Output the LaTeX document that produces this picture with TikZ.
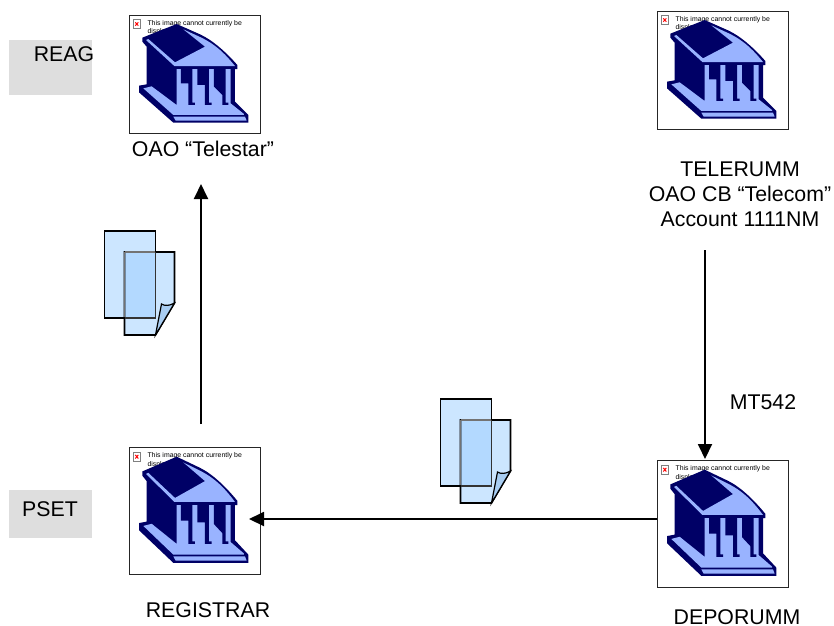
\documentclass[tikz,border=0pt]{standalone}
\usepackage{fontspec}
\setmainfont{Liberation Sans}
\usetikzlibrary{arrows.meta}
\definecolor{navy1}{HTML}{000066}
\definecolor{lightb}{HTML}{99B3FF}
\definecolor{docb}{HTML}{CCE6FF}
\definecolor{docd}{HTML}{B3D9FF}
\definecolor{fold}{HTML}{A8CDF2}
\tikzset{
  x=1pt,y=-1pt,
  lab/.style={font=\fontsize{21.3}{25}\selectfont,align=center,inner sep=0pt,text=black},
  framebox/.style={draw=black!85,line width=0.9pt,fill=white,minimum width=131pt,inner sep=0pt,anchor=north west},
  greybox/.style={fill=black!13,draw=none,inner sep=0pt,anchor=north west,minimum width=83pt},
  flow/.style={line width=1.9pt,-{Triangle[length=15pt,width=14pt]}},
  docline/.style={draw=black,line width=1.6pt,line join=miter},
  msg/.style={font=\fontsize{6.9}{8.2}\selectfont,align=left,anchor=north west,inner sep=0pt,text=black},
}
% \bank{name}{x}{y}{height}{yscale}
\newcommand{\bank}[5]{%
  \node[framebox,minimum height=#4pt] (#1) at (#2,#3) {};
  \begin{scope}[shift={(#2,#3)},xscale=0.3333,yscale=#5]
    \draw[line width=0.5pt,fill=white,draw=black!50] (13,14) rectangle (34,40);
    \draw[red,line width=1pt] (19,22)--(28,32) (28,22)--(19,32);
    \node[msg] (#1msg) at (55,16) {This image cannot currently be\\displayed.};
    % silhouette
    \fill[navy1] (40,68) -- (143,27) -- (213,58) .. controls (250,75) and (290,110) .. (325,150) -- (325,162) -- (318,162) -- (318,260) -- (358,300) -- (358,323) -- (133,323) -- (30,232) -- (30,212) -- (53,208) -- (53,95) -- (40,80) -- cycle;
    % roof
    \fill[lightb] (51,75) -- (136,153) -- (318,153) .. controls (295,125) and (265,90) .. (213,66) -- (163,43) -- (228,95) -- (138,142) -- (58,72) -- cycle;
    % columns and floor
    \fill[lightb] (43,220) -- (68,214) -- (143,270) -- (143,162) -- (305,162) -- (305,265) -- (345,297) -- (345,300) -- (133,300) -- cycle;
    % gaps between the columns
    \fill[navy1] (156,162) -- (190,162) -- (190,263) -- (198,263) -- (198,270) -- (178,270) -- (178,205) -- (156,205) -- cycle;
    \fill[navy1] (205,162) -- (240,162) -- (240,263) -- (248,263) -- (248,270) -- (228,270) -- (228,210) -- (205,210) -- cycle;
    \fill[navy1] (255,162) -- (290,162) -- (290,263) -- (298,263) -- (298,270) -- (280,270) -- (280,240) -- (255,215) -- cycle;
    % step
    \fill[lightb] (133,305) -- (348,305) -- (353,317) -- (140,317) -- cycle;
  \end{scope}
}
% \pages{name}{x}{y}
\newcommand{\pages}[3]{%
  \begin{scope}[shift={(#2,#3)}]
    \coordinate (#1) at (0,0);
    \fill[docb] (0,0) rectangle (51,87);
    \fill[docb] (20,21) -- (70,21) -- (70,72) -- (51,104) -- (20,104) -- cycle;
    \fill[docd] (20,21) rectangle (51,87);
    \draw[docline] (20,21) -- (70,21) -- (70,72) -- (51,104) -- (20,104) -- cycle;
    \draw[docline,draw=black!55] (20,21) -- (51,21) (20,21) -- (20,87);
    \draw[docline] (20,87) -- (0,87) -- (0,0) -- (51,0) -- (51,21);
    \draw[docline,draw=black!80] (20,87) -- (51,87) -- (51,21);
    \draw[docline,fill=fold,line width=1.2pt] (51,104) -- (57,73) .. controls (60,75) and (65,75) .. (70,72) -- cycle;
  \end{scope}
}
\begin{document}
\begin{tikzpicture}
\useasboundingbox (0,0) rectangle (834,625);
\fill[white] (0,0) rectangle (834,625);
\node[greybox,minimum height=55pt] (reagbox) at (9,40) {};
\node[greybox,minimum height=48pt] (psetbox) at (9,490) {};
\node[lab] (reag) at (64,54) {REAG};
\node[lab] (pset) at (50,509) {PSET};

\bank{telestar}{129}{15}{118}{0.3333}
\bank{telerumm}{657}{11}{118}{0.3333}
\bank{registrar}{129}{447}{127}{0.3587}
\bank{deporumm}{657}{460}{127}{0.3587}

\node[lab] (telestarlab) at (203,149) {OAO “Telestar”};
\node[lab] (telerummlab) at (740,194) {TELERUMM\\OAO CB “Telecom”\\Account 1111NM};
\node[lab] (registrarlab) at (208,610) {REGISTRAR};
\node[lab] (deporummlab) at (737,617) {DEPORUMM};
\node[lab] (mt) at (763,402) {MT542};

\pages{doca}{104.5}{231}
\pages{docb}{440.5}{399}

\coordinate (a1) at (201,424);
\coordinate (a2) at (201,184);
\coordinate (b1) at (705,250);
\coordinate (b2) at (705,459);
\coordinate (c2) at (249,519);
\draw[flow] (a1) -- (a2);
\draw[flow] (b1) -- (b2);
\draw[flow] (deporumm.west |- c2) -- (c2);
\end{tikzpicture}
\end{document}
